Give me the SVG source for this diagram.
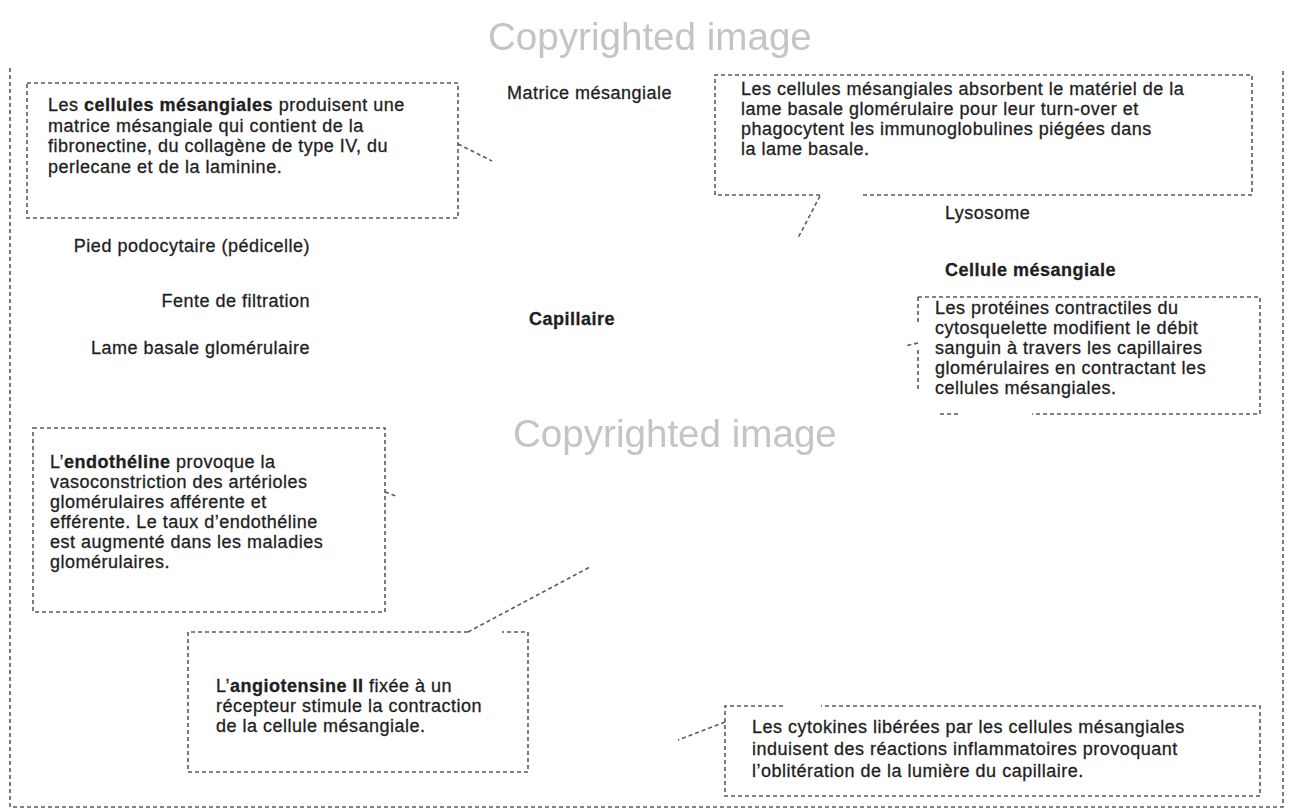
<svg xmlns="http://www.w3.org/2000/svg" width="1291" height="811" viewBox="0 0 1291 811">
  <defs>
    <filter id="soft" x="-5%" y="-20%" width="110%" height="140%">
      <feGaussianBlur stdDeviation="0.7"/>
    </filter>
  </defs>
  <style>
    .dash { fill: none; stroke: #5a5a5a; stroke-width: 1.6; stroke-dasharray: 4 3; }
    .txt { font-family: "Liberation Sans", Arial, sans-serif; font-size: 18px; letter-spacing: 0.5px; fill: #1e1e1e; stroke: #1e1e1e; stroke-width: 0.3; }
    .b { font-weight: bold; }
    .wm { font-family: "Liberation Sans", Arial, sans-serif; font-size: 38.6px; fill: #c4c4c4; }
  </style>

  <rect width="1291" height="811" fill="#ffffff"/>

  <!-- watermark lettering -->
  <g id="watermarks" filter="url(#soft)">
    <text class="wm" x="488" y="50">Copyrighted image</text>
    <text class="wm" x="513" y="447">Copyrighted image</text>
  </g>

  <!-- outer frame, open at the top -->
  <g id="frame">
    <path class="dash" d="M10,68 V807 H1283 V68"/>
  </g>

  <!-- leader lines from the callouts -->
  <g id="connectors">
    <path class="dash" d="M458,144 L492,161"/>
    <path class="dash" d="M820,196 L798,238"/>
    <path class="dash" d="M918,343 L905,346"/>
    <path class="dash" d="M385,492 L396,496"/>
    <path class="dash" d="M468,632 L590,567"/>
    <path class="dash" d="M725,722 L678,740"/>
  </g>

  <g id="callout-matrix">
    <rect class="dash" x="27" y="83" width="431" height="135"/>
    <text class="txt" x="48" y="111">Les <tspan class="b">cellules mésangiales</tspan> produisent une</text>
    <text class="txt" x="48" y="131.5">matrice mésangiale qui contient de la</text>
    <text class="txt" x="48" y="152">fibronectine, du collagène de type IV, du</text>
    <text class="txt" x="48" y="172.5">perlecane et de la laminine.</text>
  </g>

  <g id="callout-absorb">
    <path class="dash" d="M820,195 H715 V75 H1252 V195 H862"/>
    <text class="txt" x="741" y="95">Les cellules mésangiales absorbent le matériel de la</text>
    <text class="txt" x="741" y="115">lame basale glomérulaire pour leur turn-over et</text>
    <text class="txt" x="741" y="135">phagocytent les immunoglobulines piégées dans</text>
    <text class="txt" x="741" y="155">la lame basale.</text>
  </g>

  <g id="callout-contractile">
    <path class="dash" d="M918,297 H1260 V414 H1032"/>
    <path class="dash" d="M958,414 H940"/>
    <path class="dash" d="M918,297 V322 M918,350 V392"/>
    <text class="txt" x="935" y="314">Les protéines contractiles du</text>
    <text class="txt" x="935" y="334">cytosquelette modifient le débit</text>
    <text class="txt" x="935" y="354">sanguin à travers les capillaires</text>
    <text class="txt" x="935" y="374">glomérulaires en contractant les</text>
    <text class="txt" x="935" y="394">cellules mésangiales.</text>
  </g>

  <g id="callout-endothelin">
    <rect class="dash" x="33" y="428" width="352" height="184"/>
    <text class="txt" x="50" y="468">L’<tspan class="b">endothéline</tspan> provoque la</text>
    <text class="txt" x="50" y="488">vasoconstriction des artérioles</text>
    <text class="txt" x="50" y="508">glomérulaires afférente et</text>
    <text class="txt" x="50" y="528">efférente. Le taux d’endothéline</text>
    <text class="txt" x="50" y="548">est augmenté dans les maladies</text>
    <text class="txt" x="50" y="568">glomérulaires.</text>
  </g>

  <g id="callout-angiotensin">
    <path class="dash" d="M468,632 H188 V772 H528 V632 H502"/>
    <text class="txt" x="216" y="692">L’<tspan class="b">angiotensine II</tspan> fixée à un</text>
    <text class="txt" x="216" y="712">récepteur stimule la contraction</text>
    <text class="txt" x="216" y="732">de la cellule mésangiale.</text>
  </g>

  <g id="callout-cytokines">
    <path class="dash" d="M783,706 H725 V796 H1260 V706 H821"/>
    <text class="txt" x="752" y="733">Les cytokines libérées par les cellules mésangiales</text>
    <text class="txt" x="752" y="755">induisent des réactions inflammatoires provoquant</text>
    <text class="txt" x="752" y="777">l’oblitération de la lumière du capillaire.</text>
  </g>

  <g id="label-matrice"><text class="txt" x="507" y="99">Matrice mésangiale</text></g>
  <g id="label-lysosome"><text class="txt" x="945" y="219">Lysosome</text></g>
  <g id="label-cellule"><text class="txt b" x="945" y="276">Cellule mésangiale</text></g>
  <g id="label-pied"><text class="txt" x="310" y="252" text-anchor="end">Pied podocytaire (pédicelle)</text></g>
  <g id="label-fente"><text class="txt" x="310" y="307" text-anchor="end">Fente de filtration</text></g>
  <g id="label-lame"><text class="txt" x="310" y="354" text-anchor="end">Lame basale glomérulaire</text></g>
  <g id="label-capillaire"><text class="txt b" x="529" y="325">Capillaire</text></g>
</svg>
